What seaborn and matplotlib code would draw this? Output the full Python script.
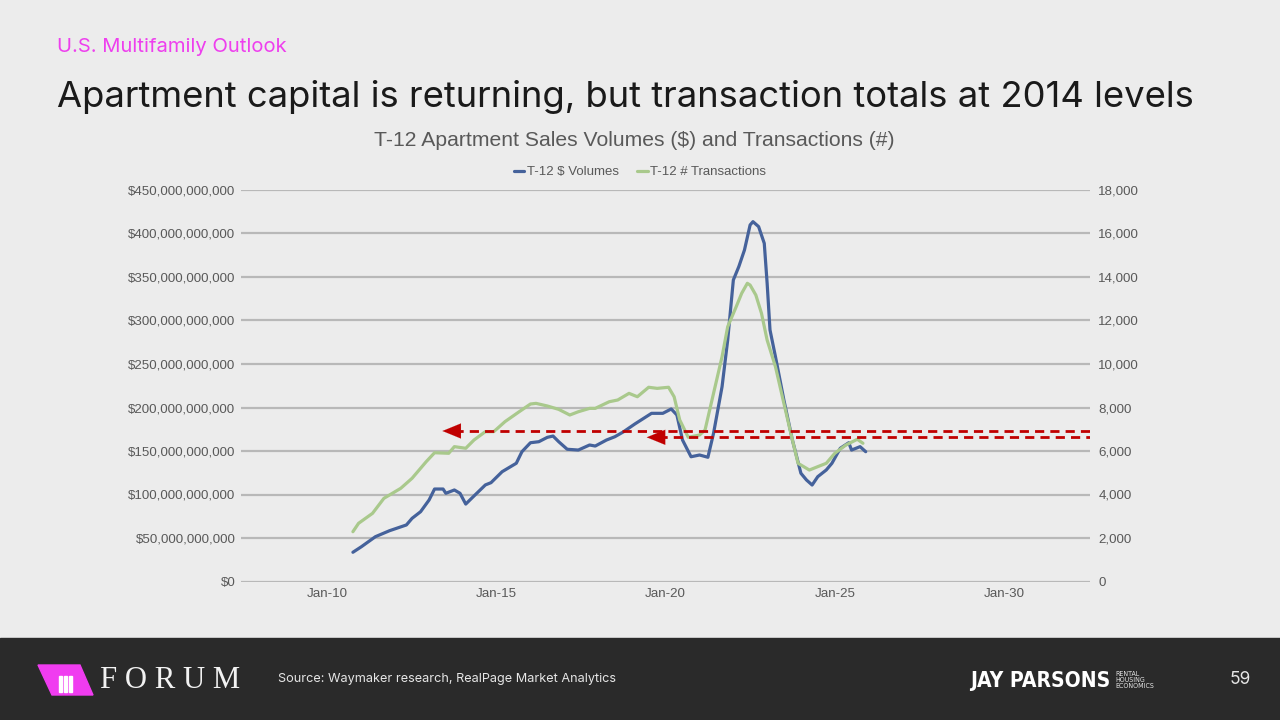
import matplotlib
matplotlib.use("Agg")
import matplotlib.pyplot as plt
from matplotlib.ticker import FuncFormatter, MultipleLocator
from matplotlib.patches import Rectangle, Polygon
import seaborn as sns
import pandas as pd
import numpy as np

# T-12 $ volumes (billions)
volume_months = ["2010-10", "2011-01", "2011-06", "2011-11", "2012-05", "2012-07", "2012-10",
                 "2013-01", "2013-03", "2013-06", "2013-07", "2013-10", "2013-12", "2014-02",
                 "2014-05", "2014-09", "2014-11", "2015-03", "2015-08", "2015-10", "2016-01",
                 "2016-04", "2016-07", "2016-09", "2016-11", "2017-02", "2017-06", "2017-10",
                 "2017-12", "2018-04", "2018-07", "2018-10", "2019-02", "2019-08", "2019-12",
                 "2020-03", "2020-05", "2020-07", "2020-10", "2021-01", "2021-04", "2021-06",
                 "2021-09", "2021-11", "2022-01", "2022-03", "2022-05", "2022-07", "2022-08",
                 "2022-10", "2022-12", "2023-01", "2023-02", "2023-04", "2023-07", "2023-10",
                 "2024-01", "2024-03", "2024-05", "2024-07", "2024-10", "2024-12", "2025-03",
                 "2025-06", "2025-07", "2025-10", "2025-12"]
volume_bn = [33.6, 40, 51.5, 58.4, 65, 72.6, 80.2,
             93.7, 106.3, 106.3, 101.4, 105.2, 101.4, 89,
             98.3, 111, 113.6, 126.2, 135.9, 149.2, 159.5,
             160.7, 165.7, 167.2, 160.7, 152, 151.1, 156.9,
             155.7, 162.6, 166.4, 172, 181, 193.3, 193.3,
             198.3, 191.4, 162.6, 143.4, 145.4, 142.8, 170.3,
             223.9, 277.6, 346.6, 361.9, 381, 409.8, 413.6,
             407.9, 388.7, 342.8, 289.1, 258.4, 208.6, 162.6,
             124.4, 116.7, 110.9, 120.5, 128.2, 135.9, 153.1,
             159.5, 151.1, 155, 149.2]

# T-12 # transactions
txn_months = ["2010-10", "2010-12", "2011-05", "2011-09", "2012-03", "2012-07", "2012-12",
              "2013-03", "2013-08", "2013-10", "2014-02", "2014-05", "2014-09", "2014-12",
              "2015-04", "2015-09", "2016-01", "2016-03", "2016-07", "2016-11", "2017-03",
              "2017-06", "2017-10", "2017-12", "2018-05", "2018-08", "2018-12", "2019-03",
              "2019-07", "2019-10", "2020-02", "2020-04", "2020-06", "2020-09", "2021-01",
              "2021-03", "2021-06", "2021-09", "2021-11", "2022-02", "2022-04", "2022-06",
              "2022-07", "2022-09", "2022-11", "2023-01", "2023-04", "2023-07", "2023-10",
              "2023-12", "2024-04", "2024-07", "2024-10", "2025-01", "2025-05", "2025-09",
              "2025-11"]
txn_counts = [2290, 2675, 3135, 3825, 4285, 4745, 5510,
              5920, 5895, 6200, 6125, 6505, 6890, 6890,
              7350, 7805, 8160, 8190, 8070, 7915, 7655,
              7805, 7960, 7960, 8265, 8345, 8650, 8495,
              8930, 8880, 8930, 8495, 7425, 6630, 6735,
              6965, 8650, 10335, 11715, 12635, 13250, 13710,
              13630, 13170, 12330, 11100, 9875, 8190, 6505,
              5435, 5125, 5280, 5435, 5895, 6275, 6540,
              6355]

x_tick_dates = ["2010-01-01", "2015-01-01", "2020-01-01", "2025-01-01", "2030-01-01"]
x_tick_labels = ["Jan-10", "Jan-15", "Jan-20", "Jan-25", "Jan-30"]

# red dashed reference arrows (on the transactions scale)
arrow_levels = [6920, 6630]
arrow_tips = ["2013-05-25", "2019-06-10"]

bg = "#ECECEC"
blue = "#45629B"
green = "#A9C98C"
grey_txt = "#595959"
red = "#C00000"

sns.set_theme(style="white")
plt.rcParams["font.family"] = ["Liberation Sans", "DejaVu Sans"]

vol_df = pd.DataFrame({"date": pd.to_datetime(volume_months),
                       "value": np.array(volume_bn) * 1e9})
txn_df = pd.DataFrame({"date": pd.to_datetime(txn_months), "value": txn_counts})

fig = plt.figure(figsize=(12.8, 7.2), dpi=100)
fig.patch.set_facecolor(bg)

ax = fig.add_axes([241 / 1280, 138.5 / 720, 849 / 1280, 391.5 / 720])
ax.set_facecolor("none")
ax2 = ax.twinx()

sns.lineplot(data=vol_df, x="date", y="value", ax=ax, color=blue, lw=2.3,
             label="T-12 $ Volumes", legend=False)
sns.lineplot(data=txn_df, x="date", y="value", ax=ax2, color=green, lw=2.3,
             label="T-12 # Transactions", legend=False)

xmin, xmax = pd.Timestamp("2007-06-10"), pd.Timestamp("2032-07-20")
ax.set_xlim(xmin, xmax)
ax.set_ylim(0, 450e9)
ax2.set_ylim(0, 18000)
ax.yaxis.set_major_locator(MultipleLocator(50e9))
ax2.yaxis.set_major_locator(MultipleLocator(2000))
ax.yaxis.set_major_formatter(FuncFormatter(lambda v, p: f"${v:,.0f}"))
ax2.yaxis.set_major_formatter(FuncFormatter(lambda v, p: f"{v:,.0f}"))
ax.set_xticks(pd.to_datetime(x_tick_dates))
ax.set_xticklabels(x_tick_labels)

ax.grid(axis="y", color="#B8B8B8", lw=1.6)
ax.grid(axis="x", visible=False)
ax2.grid(False)
for a in (ax, ax2):
    for s in a.spines.values():
        s.set_visible(False)
    a.set_xlabel("")
    a.set_ylabel("")
ax.tick_params(axis="y", length=0, pad=4, labelsize=9.6, labelcolor=grey_txt)
ax.tick_params(axis="x", length=0, pad=5, labelsize=9.6, labelcolor=grey_txt)
ax2.tick_params(axis="y", length=0, pad=6, labelsize=9.6, labelcolor=grey_txt)

# dashed arrows
for lvl, tip in zip(arrow_levels, arrow_tips):
    t = pd.Timestamp(tip)
    ax2.plot([t + pd.Timedelta(days=120), xmax], [lvl, lvl], color=red, lw=2.0,
             linestyle=(0, (3.3, 2.2)), solid_capstyle="butt")
    ax2.annotate("", xy=(t, lvl), xytext=(t + pd.Timedelta(days=170), lvl),
                 arrowprops=dict(arrowstyle="-|>,head_length=1.1,head_width=0.45",
                                 color=red, lw=0.1, shrinkA=0, shrinkB=0))

# chart title and legend
fig.text(634 / 1280, 1 - 140 / 720, "T-12 Apartment Sales Volumes ($) and Transactions (#)",
         ha="center", va="center", fontsize=15.2, color=grey_txt)
h1, l1 = ax.get_legend_handles_labels()
h2, l2 = ax2.get_legend_handles_labels()
fig.legend(h1 + h2, l1 + l2, loc="center", bbox_to_anchor=(640 / 1280, 1 - 172 / 720),
           ncol=2, frameon=False, fontsize=9.5, handlelength=0.8, handletextpad=0.2,
           columnspacing=1.4, labelcolor=grey_txt)

# slide header
sub = fig.text(57 / 1280, 1 - 47 / 720, "U.S. Multifamily Outlook", fontsize=14,
               color="#EE3FEE", va="center", family=["Inter", "DejaVu Sans"])
title = fig.text(57 / 1280, 1 - 97 / 720,
                 "Apartment capital is returning, but transaction totals at 2014 levels",
                 fontsize=27, color="#1A1A1A", va="center", family=["Inter", "DejaVu Sans"])

# footer band
fig.add_artist(Rectangle((0, 0), 1, 82 / 720, transform=fig.transFigure,
                         color="#2A2A2A", zorder=0))
logo = [(38, 665), (80, 665), (93, 695), (52, 695)]
fig.add_artist(Polygon([(x / 1280, 1 - y / 720) for x, y in logo], closed=True,
                       transform=fig.transFigure, color="#F03CF0"))
for bx in (59, 64, 69):
    fig.add_artist(Rectangle((bx / 1280, 1 - 692 / 720), 2.5 / 1280, 16 / 720,
                             transform=fig.transFigure, color="white"))
forum = fig.text(100 / 1280, 1 - 681 / 720, "F O R U M", fontsize=22, color="#F2F2F2",
                 va="center", family=["Liberation Serif", "DejaVu Serif"])
src = fig.text(278 / 1280, 1 - 679 / 720, "Source: Waymaker research, RealPage Market Analytics",
               fontsize=10, color="#E6E6E6", va="center", family=["Inter", "DejaVu Sans"])
jp = fig.text(970 / 1280, 1 - 681 / 720, "JAY PARSONS", fontsize=20, color="white",
              va="center", fontweight="bold", fontstretch="condensed",
              family=["DejaVu Sans"])
fig.text(1115 / 1280, 1 - 680 / 720, "RENTAL\nHOUSING\nECONOMICS", fontsize=5, color="#E6E6E6",
         va="center", linespacing=1.1, fontstretch="condensed", family=["DejaVu Sans"])
fig.text(1240 / 1280, 1 - 679 / 720, "59", fontsize=12.5, color="#E6E6E6",
         ha="center", va="center", family=["Inter", "DejaVu Sans"])

# fit text widths to the slide layout
fig.canvas.draw()
for txt, target in ((title, 1139), (sub, 230), (forum, 140), (src, 340), (jp, 140)):
    w = txt.get_window_extent().width
    txt.set_fontsize(txt.get_fontsize() * target / w)

fig.savefig("out.png", dpi=100, facecolor=fig.get_facecolor())
